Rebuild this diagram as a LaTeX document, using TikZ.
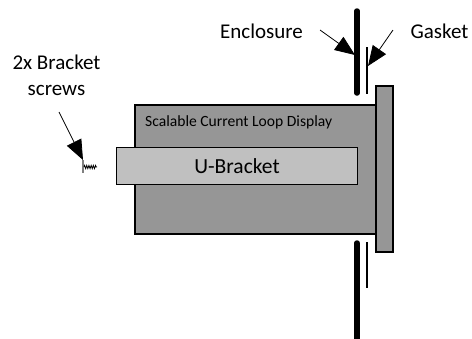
\documentclass[tikz,border=0pt]{standalone}
\usepackage{fontspec}
\setmainfont{Carlito}
\usetikzlibrary{arrows.meta,decorations.pathmorphing}
\definecolor{bodygray}{HTML}{969696}
\definecolor{brgray}{HTML}{C0C0C0}
\tikzset{
  x=1pt,y=-1pt,
  box/.style={draw=black,line width=2.4pt,fill=bodygray,inner sep=0pt,anchor=north west},
  wall/.style={line width=5.5pt,line cap=round,black},
  seal/.style={line width=2.8pt,black},
  pointer/.style={line width=0.8pt,-{Triangle[length=20pt,width=16pt]}},
  lab/.style={inner sep=0pt,align=center,text=black,font=\fontsize{21}{26}\selectfont}
}
\begin{document}
\begin{tikzpicture}
\useasboundingbox (0,0) rectangle (472,338);
\node[box,minimum width=241pt,minimum height=129pt] (body) at (134,104) {};
\node[box,minimum width=17pt,minimum height=166pt] (flange) at (375,85) {};
\node[draw=black,line width=1pt,fill=brgray,minimum width=241pt,minimum height=37pt,inner sep=0pt,anchor=north west,font=\fontsize{21.5}{26}\selectfont] (bracket) at (116,147) {U-Bracket};
\node[inner sep=0pt,anchor=west,font=\fontsize{15.6}{19}\selectfont] (title) at (145,122) {Scalable Current Loop Display};
\coordinate (e1) at (357,11); \coordinate (e2) at (357,93);
\coordinate (e3) at (357,243); \coordinate (e4) at (357,340);
\coordinate (g1) at (367,47); \coordinate (g2) at (367,94);
\coordinate (g3) at (367,242); \coordinate (g4) at (367,288);
\draw[wall] (e1) -- (e2);
\draw[wall] (e3) -- (e4);
\draw[seal] (g1) -- (g2);
\draw[seal] (g3) -- (g4);
\node[lab,anchor=center] (enc) at (261.5,31) {Enclosure};
\node[lab,anchor=center] (gas) at (439.5,31) {Gasket};
\node[lab,anchor=center] (scr) at (56.5,75) {2x Bracket\\screws};
\coordinate (a1) at (320,30); \coordinate (a2) at (355,55);
\coordinate (b1) at (393,30); \coordinate (b2) at (368,66);
\coordinate (c1) at (59,112); \coordinate (c2) at (83,160);
\draw[pointer] (a1) -- (a2);
\draw[pointer] (b1) -- (b2);
\draw[pointer] (c1) -- (c2);
\coordinate (s1) at (83,160); \coordinate (s2) at (83,173);
\coordinate (s3) at (84,167); \coordinate (s4) at (97,167);
\draw[gray,line width=1.6pt] (s1) -- (s2);
\draw[black,line width=0.8pt,decorate,decoration={zigzag,amplitude=1.6pt,segment length=2.2pt}] (s3) -- (s4);
\end{tikzpicture}
\end{document}
